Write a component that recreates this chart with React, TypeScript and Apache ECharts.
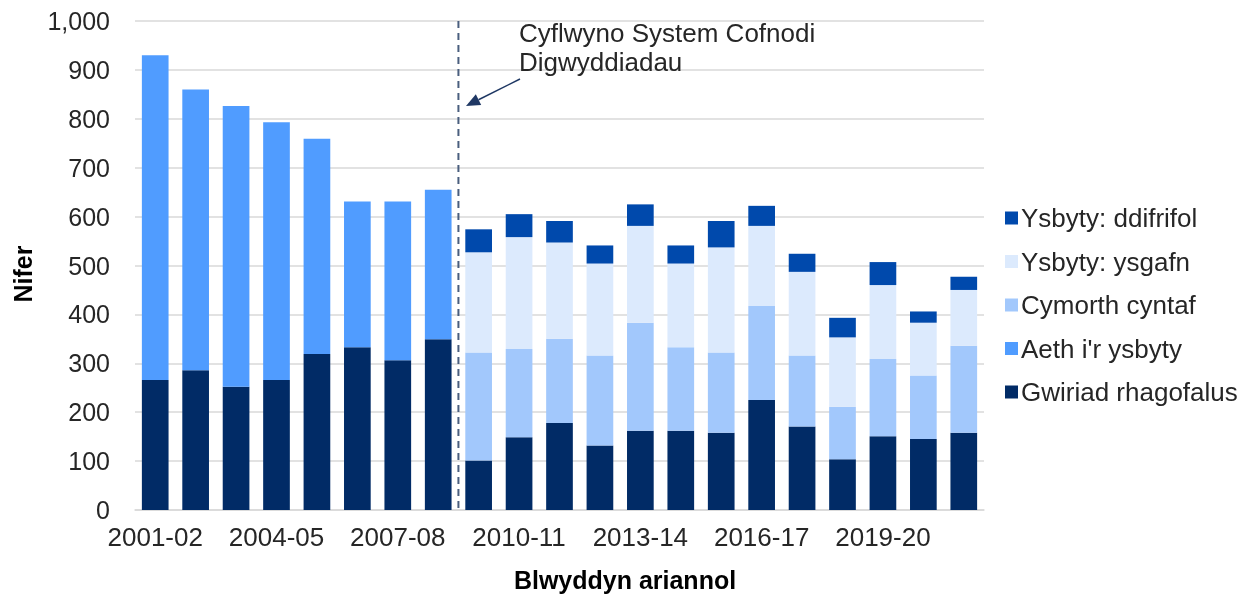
import React, { useEffect, useRef } from "react";
import * as echarts from "echarts";

const categories = [
  "2001-02", "2002-03", "2003-04", "2004-05", "2005-06", "2006-07", "2007-08",
  "2008-09", "2009-10", "2010-11", "2011-12", "2012-13", "2013-14", "2014-15",
  "2015-16", "2016-17", "2017-18", "2018-19", "2019-20", "2020-21", "2021-22",
];
const gwiriad = [266, 286, 252, 266, 319, 333, 306, 349, 101, 149, 178, 132, 162, 162, 158, 225, 171, 104, 151, 145, 158];
const aeth = [664, 574, 574, 527, 440, 298, 325, 306, null, null, null, null, null, null, null, null, null, null, null, null, null];
const cymorth = [null, null, null, null, null, null, null, null, 221, 180, 172, 184, 221, 171, 164, 192, 145, 107, 158, 130, 178];
const ysgafn = [null, null, null, null, null, null, null, null, 205, 229, 197, 188, 198, 171, 215, 164, 171, 142, 151, 108, 114];
const ddifrifol = [null, null, null, null, null, null, null, null, 47, 47, 44, 37, 44, 37, 54, 41, 37, 40, 47, 23, 27];
const yTicks = { min: 0, max: 1000, interval: 100 };

const seriesNames = {
  gwiriad: "Gwiriad rhagofalus",
  aeth: "Aeth i'r ysbyty",
  cymorth: "Cymorth cyntaf",
  ysgafn: "Ysbyty: ysgafn",
  ddifrifol: "Ysbyty: ddifrifol",
};
const annotation = "Cyflwyno System Cofnodi\nDigwyddiadau";
const xTitle = "Blwyddyn ariannol";
const yTitle = "Nifer";

const FONT = "Liberation Sans, Arial, sans-serif";
const TXT = "#262626";

export default function App() {
  const ref = useRef<HTMLDivElement>(null);
  useEffect(() => {
    if (!ref.current) return;
    const chart = echarts.init(ref.current, null, { renderer: "svg" });
    const bar = (name: string, data: any[], color: string) => ({
      name,
      type: "bar",
      stack: "total",
      data,
      barCategoryGap: "34%",
      itemStyle: { color },
    });
    chart.setOption({
      animation: false,
      textStyle: { fontFamily: FONT },
      grid: { left: 135, right: 265, top: 21, bottom: 85, containLabel: false },
      legend: {
        orient: "vertical",
        left: 1000,
        top: 200,
        itemWidth: 13,
        itemHeight: 13,
        itemGap: 17.5,
        icon: "rect",
        textStyle: { fontSize: 26, color: TXT, fontFamily: FONT, lineHeight: 25, padding: [0, 0, 0, -2] },
        data: [seriesNames.ddifrifol, seriesNames.ysgafn, seriesNames.cymorth, seriesNames.aeth, seriesNames.gwiriad],
      },
      xAxis: {
        type: "category",
        data: categories,
        axisTick: { show: false },
        axisLine: { lineStyle: { color: "#D9D9D9", width: 1.5 } },
        axisLabel: { interval: 2, fontSize: 26, color: TXT, margin: 14, fontFamily: FONT },
      },
      yAxis: {
        type: "value",
        min: yTicks.min,
        max: yTicks.max,
        interval: yTicks.interval,
        axisLabel: {
          fontSize: 25,
          color: TXT,
          margin: 25,
          fontFamily: FONT,
          formatter: (v: number) => v.toLocaleString("en-US"),
        },
        splitLine: { lineStyle: { color: "#D9D9D9", width: 1.5 } },
      },
      series: [
        bar(seriesNames.gwiriad, gwiriad, "#012B66"),
        bar(seriesNames.aeth, aeth, "#509CFF"),
        bar(seriesNames.cymorth, cymorth, "#A2C8FC"),
        bar(seriesNames.ysgafn, ysgafn, "#DCEAFD"),
        bar(seriesNames.ddifrifol, ddifrifol, "#0049AC"),
      ],
    });

    const x7 = chart.convertToPixel({ xAxisIndex: 0 }, 7) as number;
    const x8 = chart.convertToPixel({ xAxisIndex: 0 }, 8) as number;
    const xm = (x7 + x8) / 2;
    const yTop = chart.convertToPixel({ yAxisIndex: 0 }, yTicks.max) as number;
    const yBot = chart.convertToPixel({ yAxisIndex: 0 }, 0) as number;

    // arrow geometry
    const ax1 = 520, ay1 = 79, ax2 = 466, ay2 = 106;
    const ang = Math.atan2(ay2 - ay1, ax2 - ax1);
    const hl = 14, hw = 6;
    const bx = ax2 - hl * Math.cos(ang), by = ay2 - hl * Math.sin(ang);
    const px = -Math.sin(ang) * hw, py = Math.cos(ang) * hw;

    chart.setOption({
      graphic: [
        {
          type: "line",
          shape: { x1: xm, y1: yTop, x2: xm, y2: yBot },
          style: { stroke: "#4A5E7E", lineWidth: 2, lineDash: [7, 5] },
          z: 10,
        },
        {
          type: "line",
          shape: { x1: ax1, y1: ay1, x2: bx, y2: by },
          style: { stroke: "#1F3864", lineWidth: 1.5 },
          z: 10,
        },
        {
          type: "polygon",
          shape: { points: [[ax2, ay2], [bx + px, by + py], [bx - px, by - py]] },
          style: { fill: "#1F3864" },
          z: 10,
        },
        {
          type: "text",
          x: 519,
          y: 18,
          style: { text: annotation, font: `26px ${FONT}`, fill: TXT, lineHeight: 29 },
          z: 10,
        },
        {
          type: "text",
          x: 625,
          y: 580,
          style: { text: xTitle, font: `bold 25px ${FONT}`, fill: "#000", align: "center", verticalAlign: "middle" },
        },
        {
          type: "text",
          x: 23,
          y: 274,
          rotation: Math.PI / 2,
          style: { text: yTitle, font: `bold 25px ${FONT}`, fill: "#000", align: "center", verticalAlign: "middle" },
        },
      ],
    });
    return () => chart.dispose();
  }, []);
  return <div ref={ref} style={{ position: "fixed", left: 0, top: 0, width: 1249, height: 595 }} />;
}
